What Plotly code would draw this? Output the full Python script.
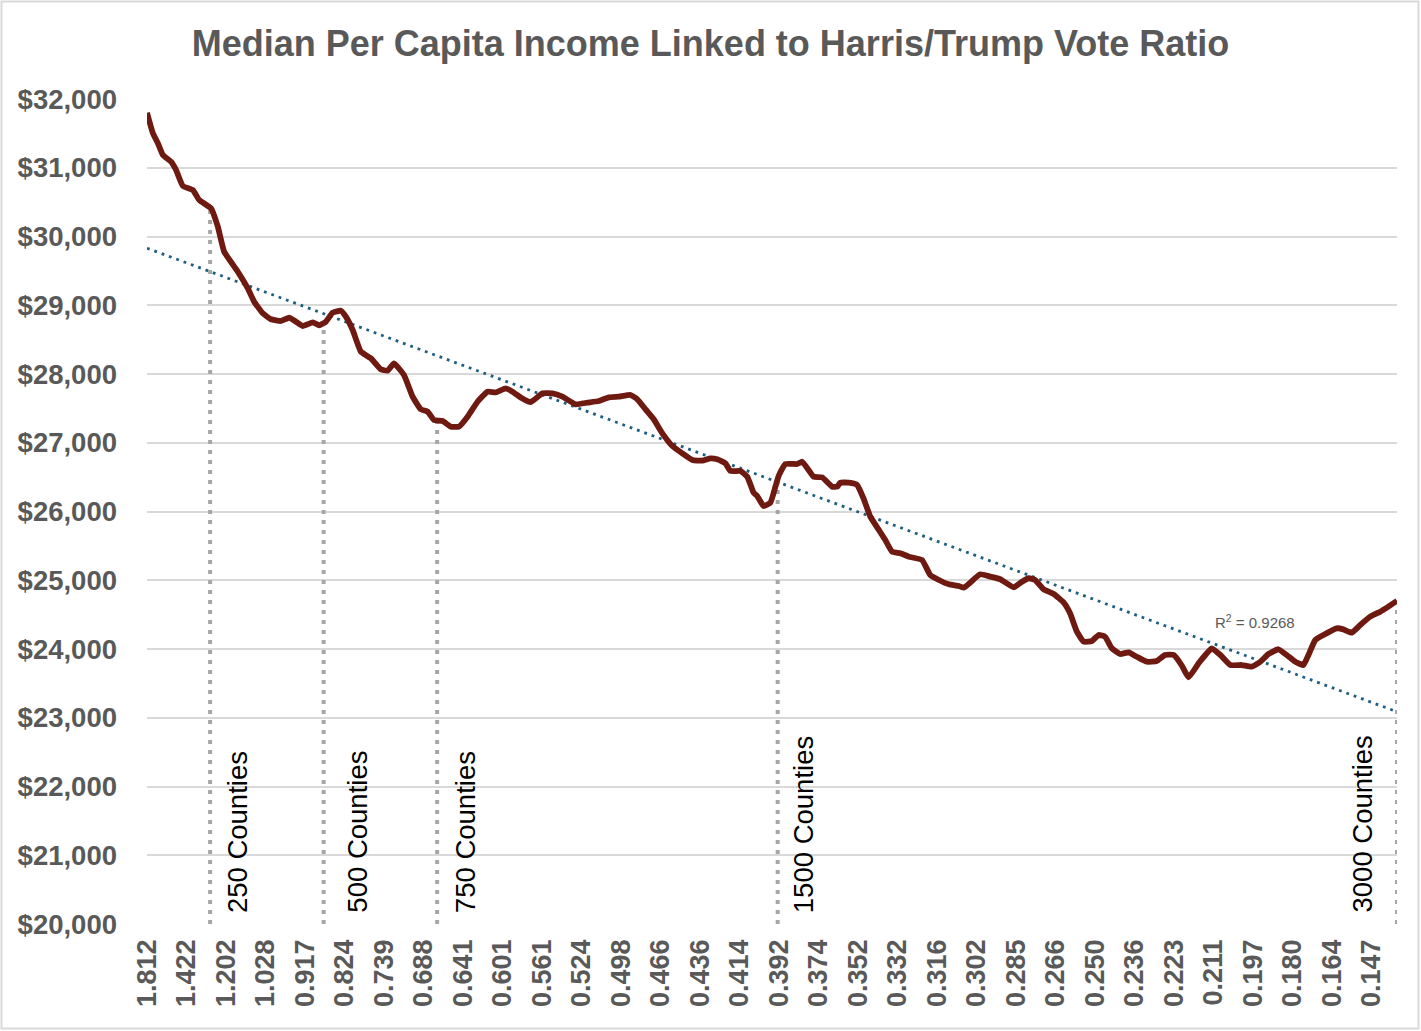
import numpy as np
import plotly.graph_objects as go

# ---------------- data ----------------
TITLE = "Median Per Capita Income Linked to Harris/Trump Vote Ratio"

tick_labels = ["1.812", "1.422", "1.202", "1.028", "0.917", "0.824", "0.739", "0.688",
               "0.641", "0.601", "0.561", "0.524", "0.498", "0.466", "0.436", "0.414",
               "0.392", "0.374", "0.352", "0.332", "0.316", "0.302", "0.285", "0.266",
               "0.250", "0.236", "0.223", "0.211", "0.197", "0.180", "0.164", "0.147"]
TICK_STEP = 87  # data points between labelled categories

# position (data-point index) and smoothed median per-capita income
point_index = [0, 13, 24, 35, 53, 64, 79, 101, 115, 141, 156, 170, 200, 222, 236, 255, 273,
               295, 313, 328, 343, 365, 379, 394, 409, 427, 438, 453, 471, 493, 515, 530,
               544, 566, 585, 603, 618, 632, 651, 669, 687, 706, 728, 750, 768, 790, 805,
               825, 845, 871, 893, 915, 944, 970, 995, 1017, 1039, 1065, 1080, 1098, 1116,
               1135, 1157, 1179, 1201, 1223, 1241, 1256, 1274, 1285, 1307, 1322, 1336, 1344,
               1358, 1373, 1384, 1391, 1406, 1432, 1443, 1457, 1468, 1487, 1509, 1520, 1527,
               1546, 1564, 1578, 1593, 1611, 1626, 1641, 1659, 1678, 1707, 1725, 1744, 1766,
               1788, 1799, 1813, 1835, 1857, 1879, 1909, 1927, 1942, 1956, 1975, 1997, 2019,
               2033, 2048, 2063, 2081, 2096, 2110, 2125, 2143, 2162, 2180, 2202, 2224, 2242,
               2261, 2279, 2294, 2316, 2331, 2345, 2364, 2386, 2411, 2433, 2452, 2470, 2492,
               2510, 2529, 2547, 2558, 2573, 2591, 2620, 2635, 2653, 2672, 2694, 2716, 2734,
               2753]
income = [31800, 31501, 31356, 31185, 31088, 30967, 30735, 30676, 30531, 30410, 30143, 29779,
          29488, 29246, 29052, 28883, 28796, 28771, 28819, 28761, 28698, 28752, 28708, 28761,
          28892, 28921, 28834, 28640, 28325, 28228, 28068, 28049, 28155, 27985, 27670, 27486,
          27452, 27331, 27316, 27234, 27234, 27379, 27597, 27743, 27733, 27791, 27743, 27650,
          27590, 27719, 27719, 27670, 27559, 27584, 27607, 27661, 27670, 27695, 27632, 27486,
          27341, 27137, 26953, 26846, 26749, 26739, 26773, 26759, 26700, 26589, 26589, 26506,
          26274, 26225, 26080, 26129, 26361, 26516, 26691, 26691, 26724, 26604, 26506, 26497,
          26361, 26361, 26419, 26419, 26385, 26192, 25925, 25741, 25585, 25415, 25392, 25343,
          25295, 25077, 25004, 24941, 24917, 24892, 24965, 25087, 25053, 25015, 24897, 24979,
          25029, 25004, 24868, 24800, 24674, 24519, 24252, 24107, 24116, 24204, 24179, 24010,
          23927, 23951, 23887, 23815, 23825, 23913, 23913, 23760, 23588, 23792, 23913, 24010,
          23913, 23767, 23767, 23743, 23815, 23927, 23996, 23913, 23815, 23767, 23913, 24131,
          24204, 24301, 24286, 24237, 24349, 24470, 24543, 24616, 24700]

trend_start, trend_end = 29830, 23087
r_squared = 0.9268

marker_index = [139, 389, 639, 1389, 2753]
marker_labels = ["250 Counties", "500 Counties", "750 Counties", "1500 Counties", "3000 Counties"]
marker_label_shift = [27, 33, 28, 26, -35]

y_ticks = [20000, 21000, 22000, 23000, 24000, 25000, 26000, 27000, 28000, 29000, 30000, 31000, 32000]

# ---------------- figure ----------------
GRAY_TXT = "#595959"
FONT = "Liberation Sans, Arial, sans-serif"
fig = go.Figure()

x_end = point_index[-1]
marker_tops = np.interp(marker_index, point_index, income)
for xi, top in zip(marker_index, marker_tops):
    fig.add_trace(go.Scatter(x=[xi, xi], y=[y_ticks[0], top], mode="lines",
                             line=dict(color="#A6A6A6", width=4, dash="4px,6px"),
                             hoverinfo="skip", showlegend=False))

fig.add_trace(go.Scatter(x=[point_index[0], x_end], y=[trend_start, trend_end], mode="lines",
                         line=dict(color="#1E5F80", width=2.8, dash="2.8px,5px"),
                         hoverinfo="skip", showlegend=False))

fig.add_trace(go.Scatter(x=point_index, y=income, mode="lines",
                         line=dict(color="#6E1A10", width=5.8, shape="spline", smoothing=0.4),
                         showlegend=False, name="Median per capita income"))

for xi, lab, sh in zip(marker_index, marker_labels, marker_label_shift):
    fig.add_annotation(x=xi, y=y_ticks[0], xref="x", yref="y", text=lab, textangle=-90,
                       showarrow=False, xanchor="center", yanchor="bottom",
                       xshift=sh, yshift=9,
                       font=dict(family=FONT, size=27.5, color="#000000"))

fig.add_annotation(x=2440, y=24407, xref="x", yref="y",
                   text=f"R<sup>2</sup> = {r_squared:.4f}",
                   showarrow=False, font=dict(family=FONT, size=15, color=GRAY_TXT))

# chart outer border
W, H = 1421, 1031
ml, mr, mt, mb = 147, 24, 99, 107
pw, ph = W - ml - mr, H - mt - mb
def px2paper_x(p):
    return (p - ml) / pw
def px2paper_y(p):
    return (H - mb - p) / ph
fig.add_shape(type="rect", xref="paper", yref="paper",
              x0=px2paper_x(1.5), x1=px2paper_x(W - 2.5), y0=px2paper_y(H - 2.5), y1=px2paper_y(1.5),
              line=dict(color="#D9D9D9", width=2), layer="below")

tickvals = [k * TICK_STEP for k in range(len(tick_labels))]
fig.update_layout(
    width=W, height=H,
    margin=dict(l=ml, r=mr, t=mt, b=mb, pad=0, autoexpand=False),
    paper_bgcolor="white", plot_bgcolor="white",
    title=dict(text=TITLE, x=0.5, xref="container", xanchor="center", y=1 - 43 / H, yanchor="middle",
               font=dict(family=FONT, size=36, color=GRAY_TXT, weight="bold")),
    xaxis=dict(range=[point_index[0], x_end], tickmode="array", tickvals=tickvals, ticktext=tick_labels,
               tickangle=-90, showgrid=False, zeroline=False, showline=False, ticks="",
               automargin=False, ticklabelstandoff=9,
               tickfont=dict(family=FONT, size=27, color=GRAY_TXT, weight="bold")),
    yaxis=dict(range=[y_ticks[0], y_ticks[-1]], tickmode="array", tickvals=y_ticks,
               ticktext=[f"${v:,}" for v in y_ticks],
               showgrid=True, gridcolor="#D9D9D9", gridwidth=2, zeroline=False, showline=False, ticks="",
               automargin=False, ticklabelstandoff=29,
               tickfont=dict(family=FONT, size=27.5, color=GRAY_TXT, weight="bold")),
)

fig.write_html("out.html", config={"displayModeBar": False},
               post_script="document.body.style.margin='0';document.body.style.overflow='hidden';")
